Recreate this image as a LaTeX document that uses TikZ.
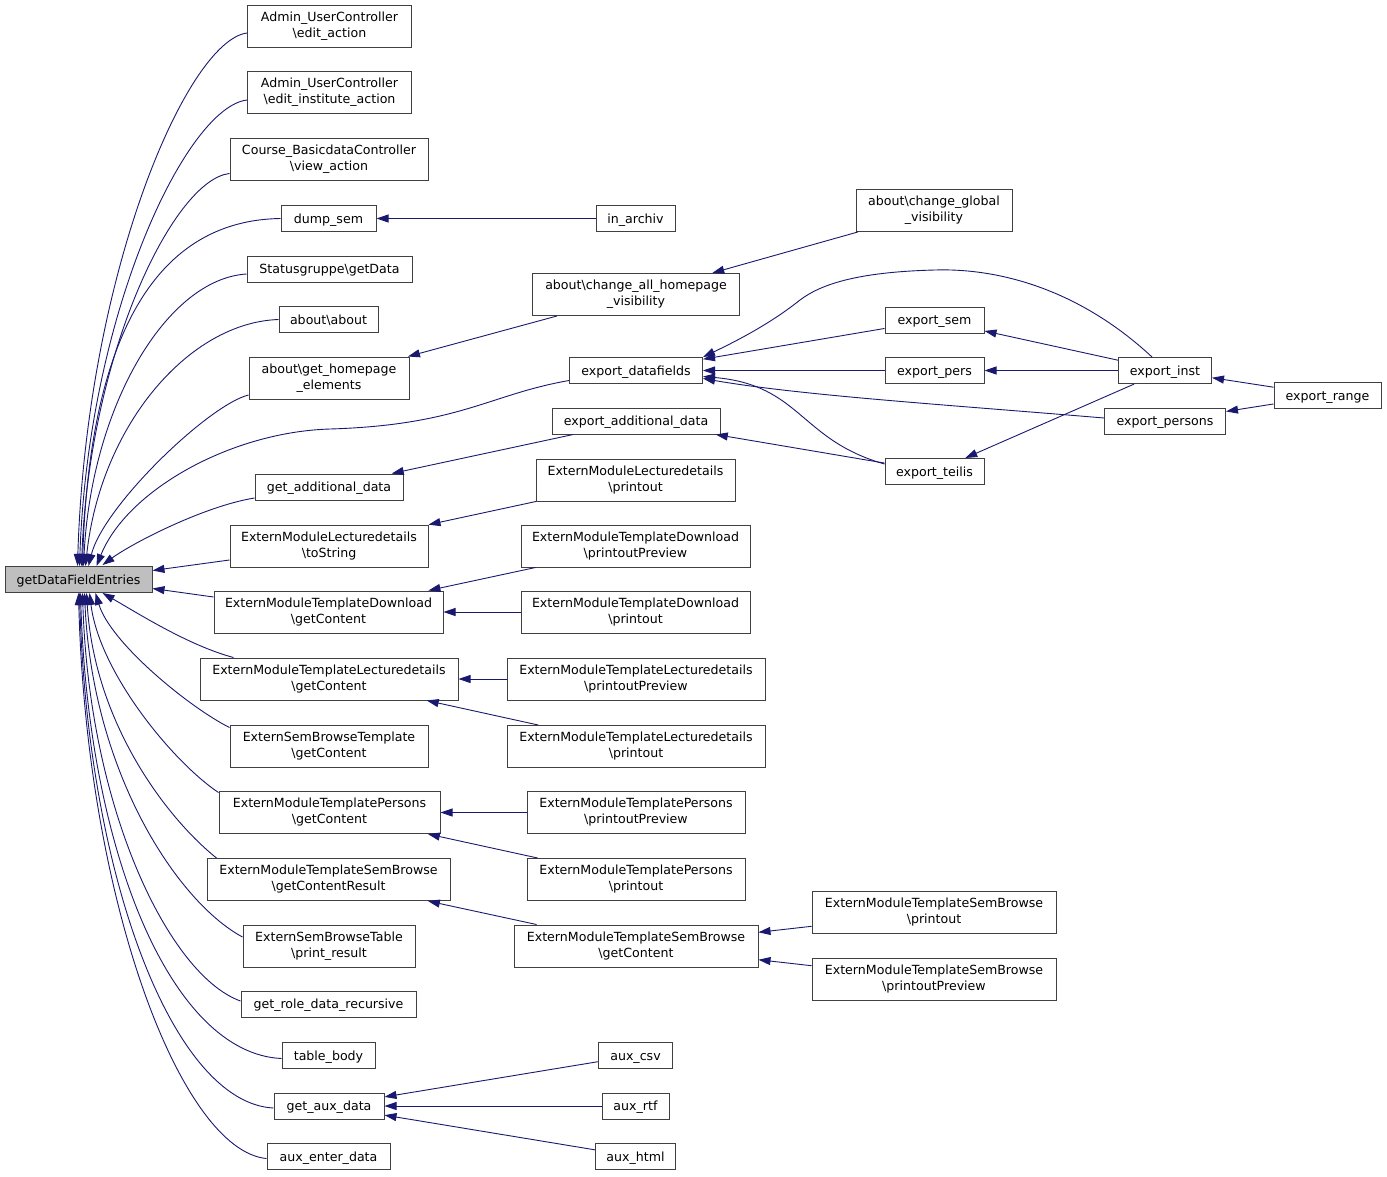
\documentclass[tikz,border=0pt]{standalone}
\usepackage{fontspec}
\setmainfont{DejaVu Sans}
\usetikzlibrary{calc,arrows.meta}
\definecolor{edgeblue}{HTML}{191970}
\definecolor{boxline}{HTML}{404040}
\definecolor{mainfill}{HTML}{BFBFBF}
\begin{document}
\begin{tikzpicture}[x=1pt,y=-1pt,
  box/.style={draw=boxline, line width=1pt, fill=white, inner sep=0pt, align=center,
    font=\fontsize{12.6}{16}\selectfont, minimum height=26pt,
    execute at begin node={\rule{0pt}{12.5pt}},
    execute at end node={\rule[-3.5pt]{0pt}{3.5pt}}},
  tall/.style={minimum height=42pt},
  edge/.style={draw=edgeblue, line width=0.9pt, -{Triangle[length=12pt,width=8pt]}}]
\fill[white] (0,0) rectangle (1387,1176);
\useasboundingbox (0,0) rectangle (1387,1176);

% main node
\node[box, fill=mainfill, minimum width=147pt] (main) at (78.5,579.5) {getDataFieldEntries};

% column 2
\node[box, tall, minimum width=164pt] (a1) at (329.5,26) {Admin\_UserController\\\textbackslash edit\_action};
\node[box, tall, minimum width=164pt] (a2) at (329.5,92) {Admin\_UserController\\\textbackslash edit\_institute\_action};
\node[box, tall, minimum width=198pt] (a3) at (329,159.5) {Course\_BasicdataController\\\textbackslash view\_action};
\node[box, minimum width=95pt] (a4) at (328.5,218.5) {dump\_sem};
\node[box, minimum width=165pt] (a5) at (329.5,269) {Statusgruppe\textbackslash getData};
\node[box, minimum width=99pt] (a6) at (328.5,319.5) {about\textbackslash about};
\node[box, tall, minimum width=160pt] (a7) at (329,378) {about\textbackslash get\_homepage\\\_elements};
\node[box, minimum width=148pt] (a8) at (329,487) {get\_additional\_data};
\node[box, tall, minimum width=198pt] (a9) at (329,546) {ExternModuleLecturedetails\\\textbackslash toString};
\node[box, tall, minimum width=229pt] (a10) at (328.5,612) {ExternModuleTemplateDownload\\\textbackslash getContent};
\node[box, tall, minimum width=258pt] (a11) at (329,679) {ExternModuleTemplateLecturedetails\\\textbackslash getContent};
\node[box, tall, minimum width=198pt] (a12) at (329,746.5) {ExternSemBrowseTemplate\\\textbackslash getContent};
\node[box, tall, minimum width=221pt] (a13) at (329.5,812.5) {ExternModuleTemplatePersons\\\textbackslash getContent};
\node[box, tall, minimum width=243pt] (a14) at (328.5,879.5) {ExternModuleTemplateSemBrowse\\\textbackslash getContentResult};
\node[box, tall, minimum width=172pt] (a15) at (329,946) {ExternSemBrowseTable\\\textbackslash print\_result};
\node[box, minimum width=175pt] (a16) at (328.5,1004) {get\_role\_data\_recursive};
\node[box, minimum width=93pt] (a17) at (328.5,1055.5) {table\_body};
\node[box, minimum width=110pt] (a18) at (329,1106) {get\_aux\_data};
\node[box, minimum width=123pt] (a19) at (328.5,1156.5) {aux\_enter\_data};

% column 3
\node[box, minimum width=79pt] (b1) at (635.5,218.5) {in\_archiv};
\node[box, tall, minimum width=207pt] (b2) at (636,294.5) {about\textbackslash change\_all\_homepage\\\_visibility};
\node[box, minimum width=133pt] (b3) at (636,370.5) {export\_datafields};
\node[box, minimum width=168pt] (b4) at (636,421) {export\_additional\_data};
\node[box, tall, minimum width=199pt] (b5) at (635.5,480) {ExternModuleLecturedetails\\\textbackslash printout};
\node[box, tall, minimum width=229pt] (b6) at (635.5,546) {ExternModuleTemplateDownload\\\textbackslash printoutPreview};
\node[box, tall, minimum width=229pt] (b7) at (635.5,612) {ExternModuleTemplateDownload\\\textbackslash printout};
\node[box, tall, minimum width=258pt] (b8) at (636,679) {ExternModuleTemplateLecturedetails\\\textbackslash printoutPreview};
\node[box, tall, minimum width=258pt] (b9) at (636,746.5) {ExternModuleTemplateLecturedetails\\\textbackslash printout};
\node[box, tall, minimum width=218pt] (b10) at (636,812.5) {ExternModuleTemplatePersons\\\textbackslash printoutPreview};
\node[box, tall, minimum width=218pt] (b11) at (636,879.5) {ExternModuleTemplatePersons\\\textbackslash printout};
\node[box, tall, minimum width=244pt] (b12) at (636,946) {ExternModuleTemplateSemBrowse\\\textbackslash getContent};
\node[box, minimum width=74pt] (b13) at (635.5,1055.5) {aux\_csv};
\node[box, minimum width=67pt] (b14) at (635.5,1106) {aux\_rtf};
\node[box, minimum width=80pt] (b15) at (635.5,1156.5) {aux\_html};

% column 4
\node[box, tall, minimum width=156pt] (c1) at (934,210.5) {about\textbackslash change\_global\\\_visibility};
\node[box, minimum width=99pt] (c2) at (934.5,320) {export\_sem};
\node[box, minimum width=99pt] (c3) at (934.5,370.5) {export\_pers};
\node[box, minimum width=99pt] (c4) at (934.5,471.5) {export\_teilis};
\node[box, tall, minimum width=244pt] (c5) at (934,912.5) {ExternModuleTemplateSemBrowse\\\textbackslash printout};
\node[box, tall, minimum width=244pt] (c6) at (934,979.5) {ExternModuleTemplateSemBrowse\\\textbackslash printoutPreview};

% column 5 and 6
\node[box, minimum width=93pt] (d1) at (1165,370.5) {export\_inst};
\node[box, minimum width=121pt] (d2) at (1165,421) {export\_persons};
\node[box, minimum width=107pt] (e1) at (1327.5,395.5) {export\_range};

% bend points
\coordinate (k1) at (935,270);
\coordinate (k2) at (800,300);
\coordinate (k3) at (330,429);

% upper fan into main
\draw[edge] ($(a1.west)+(0,7)$) .. controls +(-60,8) and +(9,-293) .. ($(main.north west)+(73,0)$);
\draw[edge] ($(a2.west)+(0,8)$) .. controls +(-60,7) and +(9,-256) .. ($(main.north west)+(75,0)$);
\draw[edge] ($(a3.west)+(0,14)$) .. controls +(-55,6) and +(8,-215) .. ($(main.north west)+(77,0)$);
\draw[edge] (a4.west) .. controls +(-140,2) and +(6,-200) .. ($(main.north west)+(78,0)$);
\draw[edge] ($(a5.west)+(0,5)$) .. controls +(-80,5) and +(8,-160) .. ($(main.north west)+(79,0)$);
\draw[edge] (a6.west) .. controls +(-90,3) and +(15,-140) .. ($(main.north west)+(81,0)$);
\draw[edge] ($(a7.west)+(0,17)$) .. controls +(-40,10) and +(15,-60) .. ($(main.north west)+(84,0)$);
\draw[edge] ($(b3.west)+(0,10)$) .. controls +(-80,14) and +(130,-4) .. (k3) .. controls +(-100,3) and +(30,-75) .. ($(main.north west)+(92,0)$);
\draw[edge] ($(a8.west)+(0,11)$) .. controls +(-50,8) and +(30,-22) .. ($(main.north west)+(98,-1)$);

% side edges into main
\draw[edge] ($(a9.west)+(0,14)$) -- ($(main.east)+(0,-9)$);
\draw[edge] ($(a10.west)+(0,-15)$) -- ($(main.east)+(0,9)$);

% lower fan into main
\draw[edge] ($(a11.north west)+(34,0)$) .. controls +(-45,-12) and +(35,20) .. ($(main.south west)+(98,0)$);
\draw[edge] ($(a12.west)+(0,-19)$) .. controls +(-40,-20) and +(15,50) .. ($(main.south west)+(91,0)$);
\draw[edge] ($(a13.west)+(0,-20)$) .. controls +(-45,-30) and +(10,80) .. ($(main.south west)+(85,0)$);
\draw[edge] ($(a14.north west)+(10,0)$) .. controls +(-50,-40) and +(8,130) .. ($(main.south west)+(82,0)$);
\draw[edge] ($(a15.west)+(0,-9)$) .. controls +(-65,-35) and +(8,180) .. ($(main.south west)+(80,0)$);
\draw[edge] ($(a16.west)+(0,-3)$) .. controls +(-70,-25) and +(7,220) .. ($(main.south west)+(78,0)$);
\draw[edge] ($(a17.west)+(0,3)$) .. controls +(-110,-5) and +(8,260) .. ($(main.south west)+(76,0)$);
\draw[edge] ($(a18.west)+(0,2)$) .. controls +(-100,-5) and +(8,285) .. ($(main.south west)+(75,0)$);
\draw[edge] ($(a19.west)+(0,2)$) .. controls +(-85,-8) and +(8,310) .. ($(main.south west)+(74,0)$);

% column 3 -> column 2
\draw[edge] (b1) -- (a4);
\draw[edge] (b2) -- (a7);
\draw[edge] (b4) -- (a8);
\draw[edge] (b5) -- (a9);
\draw[edge] (b6) -- (a10);
\draw[edge] (b7) -- (a10);
\draw[edge] (b8) -- (a11);
\draw[edge] (b9) -- (a11);
\draw[edge] (b10) -- (a13);
\draw[edge] (b11) -- (a13);
\draw[edge] (b12) -- (a14);
\draw[edge] (b13) -- (a18);
\draw[edge] (b14) -- (a18);
\draw[edge] (b15) -- (a18);

% column 4 -> column 3
\draw[edge] (c1) -- (b2);
\draw[edge] (c2) -- (b3);
\draw[edge] (c3) -- (b3);
\draw[edge] ($(c4.west)+(0,-7.5)$) .. controls +(-85,-24) and +(98,8.5) .. ($(b3.east)+(0,6)$);
\draw[edge] (c4) -- (b4);
\draw[edge] (c5) -- (b12);
\draw[edge] (c6) -- (b12);

% column 5 -> others
\draw[edge] ($(d1.north)+(-13,0)$) .. controls +(-72,-67) and +(65,-2) .. (k1) .. controls +(-80,2) and +(20,-15) .. (k2) .. controls +(-25,20) and +(42,-20) .. (b3.north east);
\draw[edge] (d1) -- (c2);
\draw[edge] (d1) -- (c3);
\draw[edge] (d1) -- (c4);
\draw[edge] ($(d2.west)+(0,-3)$) .. controls +(-154,-13) and +(98,17) .. ($(b3.east)+(0,8)$);

% column 6
\draw[edge] (e1) -- (d1);
\draw[edge] (e1) -- (d2);
\end{tikzpicture}
\end{document}
